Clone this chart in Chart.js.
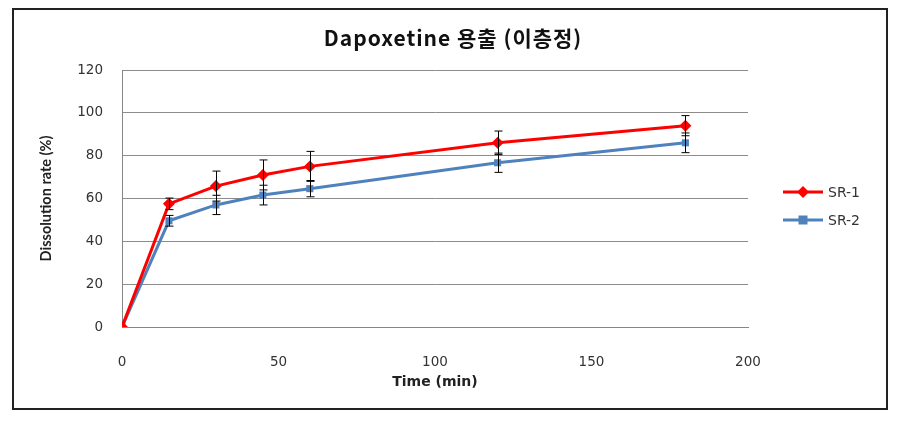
<!DOCTYPE html>
<html>
<head>
<meta charset="utf-8">
<script src="https://cdn.jsdelivr.net/npm/chart.js@4/dist/chart.umd.min.js"></script>
<style>
  body { margin: 0; background: #fff; }
  #wrap { width: 906px; height: 422px; }
</style>
</head>
<body>
<div id="wrap"><canvas id="dissolution" width="906" height="422"></canvas></div>
<script>
// dissolution data
var times = [0, 15, 30, 45, 60, 120, 180];
var sr1 = [0, 57.5, 65.8, 71, 75, 86, 94];
var sr1Err = [0, 2.7, 7, 7, 7, 5.5, 4.7];
var sr2 = [0, 49.6, 57, 61.6, 64.6, 76.7, 86];
var sr2Err = [0, 2.5, 4.5, 4.6, 3.8, 4.5, 4.6];
var yTicks = [0, 20, 40, 60, 80, 100, 120];
var xTicks = [0, 50, 100, 150, 200];
var chartTitle = 'Dapoxetine 용출 (이층정)';

function pts(ys) {
    return times.map(function (t, i) { return { x: t, y: ys[i] }; });
}

var tickFont = { family: '"DejaVu Sans", sans-serif', size: 13.5 };

// error bars, title, frame and legend
var extras = {
    id: 'extras',
    afterDatasetsDraw: function (chart) {
        var ctx = chart.ctx;
        var xs = chart.scales.x, ys = chart.scales.y;
        var errs = [sr1Err, sr2Err];
        var vals = [sr1, sr2];
        ctx.save();
        ctx.strokeStyle = '#000';
        ctx.lineWidth = 1;
        for (var d = 0; d < 2; d++) {
            for (var i = 0; i < times.length; i++) {
                if (!errs[d][i]) continue;
                var px = Math.round(xs.getPixelForValue(times[i])) + 0.5;
                var top = ys.getPixelForValue(vals[d][i] + errs[d][i]);
                var bot = ys.getPixelForValue(vals[d][i] - errs[d][i]);
                ctx.beginPath();
                ctx.moveTo(px, top); ctx.lineTo(px, bot);
                ctx.moveTo(px - 4, top); ctx.lineTo(px + 4, top);
                ctx.moveTo(px - 4, bot); ctx.lineTo(px + 4, bot);
                ctx.stroke();
            }
        }
        ctx.restore();
    },
    afterDraw: function (chart) {
        var ctx = chart.ctx;
        ctx.save();
        // title, centred on the whole picture
        ctx.fillStyle = '#111';
        ctx.font = 'bold 21px "Noto Sans CJK KR", sans-serif';
        ctx.letterSpacing = '1px';
        ctx.textAlign = 'center';
        ctx.textBaseline = 'middle';
        ctx.fillText(chartTitle, 453, 38);
        ctx.letterSpacing = '0px';
        // frame
        ctx.strokeStyle = '#222';
        ctx.lineWidth = 2;
        ctx.strokeRect(13, 9, 874, 400);
        // legend
        var items = chart.data.datasets;
        var ly = [192, 220];
        ctx.textAlign = 'left';
        items.forEach(function (ds, i) {
            ctx.strokeStyle = ds.borderColor;
            ctx.lineWidth = 3;
            ctx.beginPath();
            ctx.moveTo(783, ly[i]); ctx.lineTo(823, ly[i]);
            ctx.stroke();
            ctx.fillStyle = ds.backgroundColor;
            ctx.beginPath();
            if (ds.pointStyle === 'rectRot') {
                ctx.moveTo(803, ly[i] - 6); ctx.lineTo(809, ly[i]);
                ctx.lineTo(803, ly[i] + 6); ctx.lineTo(797, ly[i]);
                ctx.closePath();
            } else {
                ctx.rect(798.5, ly[i] - 4.5, 9, 9);
            }
            ctx.fill();
            ctx.fillStyle = '#333';
            ctx.font = '14px "DejaVu Sans", sans-serif';
            ctx.fillText(ds.label, 828, ly[i] + 1);
        });
        ctx.restore();
    }
};

new Chart(document.getElementById('dissolution').getContext('2d'), {
    type: 'line',
    data: {
        datasets: [{
            label: 'SR-1',
            data: pts(sr1),
            borderColor: '#ff0000',
            backgroundColor: '#ff0000',
            borderWidth: 3,
            pointStyle: 'rectRot',
            pointRadius: 6,
            pointBorderWidth: 0,
            tension: 0
        }, {
            label: 'SR-2',
            data: pts(sr2),
            borderColor: '#4f81bd',
            backgroundColor: '#4f81bd',
            borderWidth: 3,
            pointStyle: 'rect',
            pointRadius: 5,
            pointBorderWidth: 0,
            tension: 0
        }]
    },
    options: {
        responsive: false,
        animation: false,
        layout: { padding: { left: 0, right: 158, top: 70, bottom: 0 } },
        plugins: {
            legend: { display: false },
            tooltip: { enabled: false },
            title: { display: false }
        },
        scales: {
            x: {
                type: 'linear',
                min: 0, max: 200,
                afterBuildTicks: function (s) { s.ticks = xTicks.map(function (v) { return { value: v }; }); },
                afterFit: function (s) { s.height = 95; },
                grid: { display: false },
                border: { display: true, color: '#868686' },
                ticks: { color: '#333', font: tickFont, padding: 19, maxRotation: 0 },
                title: {
                    display: true,
                    text: 'Time (min)',
                    color: '#222',
                    font: { family: '"DejaVu Sans", sans-serif', size: 14, weight: 'bold' },
                    padding: { top: 0, bottom: 31 }
                }
            },
            y: {
                min: 0, max: 120,
                afterBuildTicks: function (s) { s.ticks = yTicks.map(function (v) { return { value: v }; }); },
                afterFit: function (s) { s.width = 122; },
                grid: { color: '#8c8c8c', drawTicks: false },
                border: { display: true, color: '#868686' },
                ticks: { color: '#333', font: tickFont, padding: 19 },
                title: {
                    display: true,
                    text: 'Dissolution rate (%)',
                    color: '#222',
                    font: { family: 'Lato, "Open Sans", sans-serif', size: 14.5, weight: 'bold' },
                    padding: { top: 38, bottom: 0 }
                }
            }
        }
    },
    plugins: [extras]
});
</script>
</body>
</html>
